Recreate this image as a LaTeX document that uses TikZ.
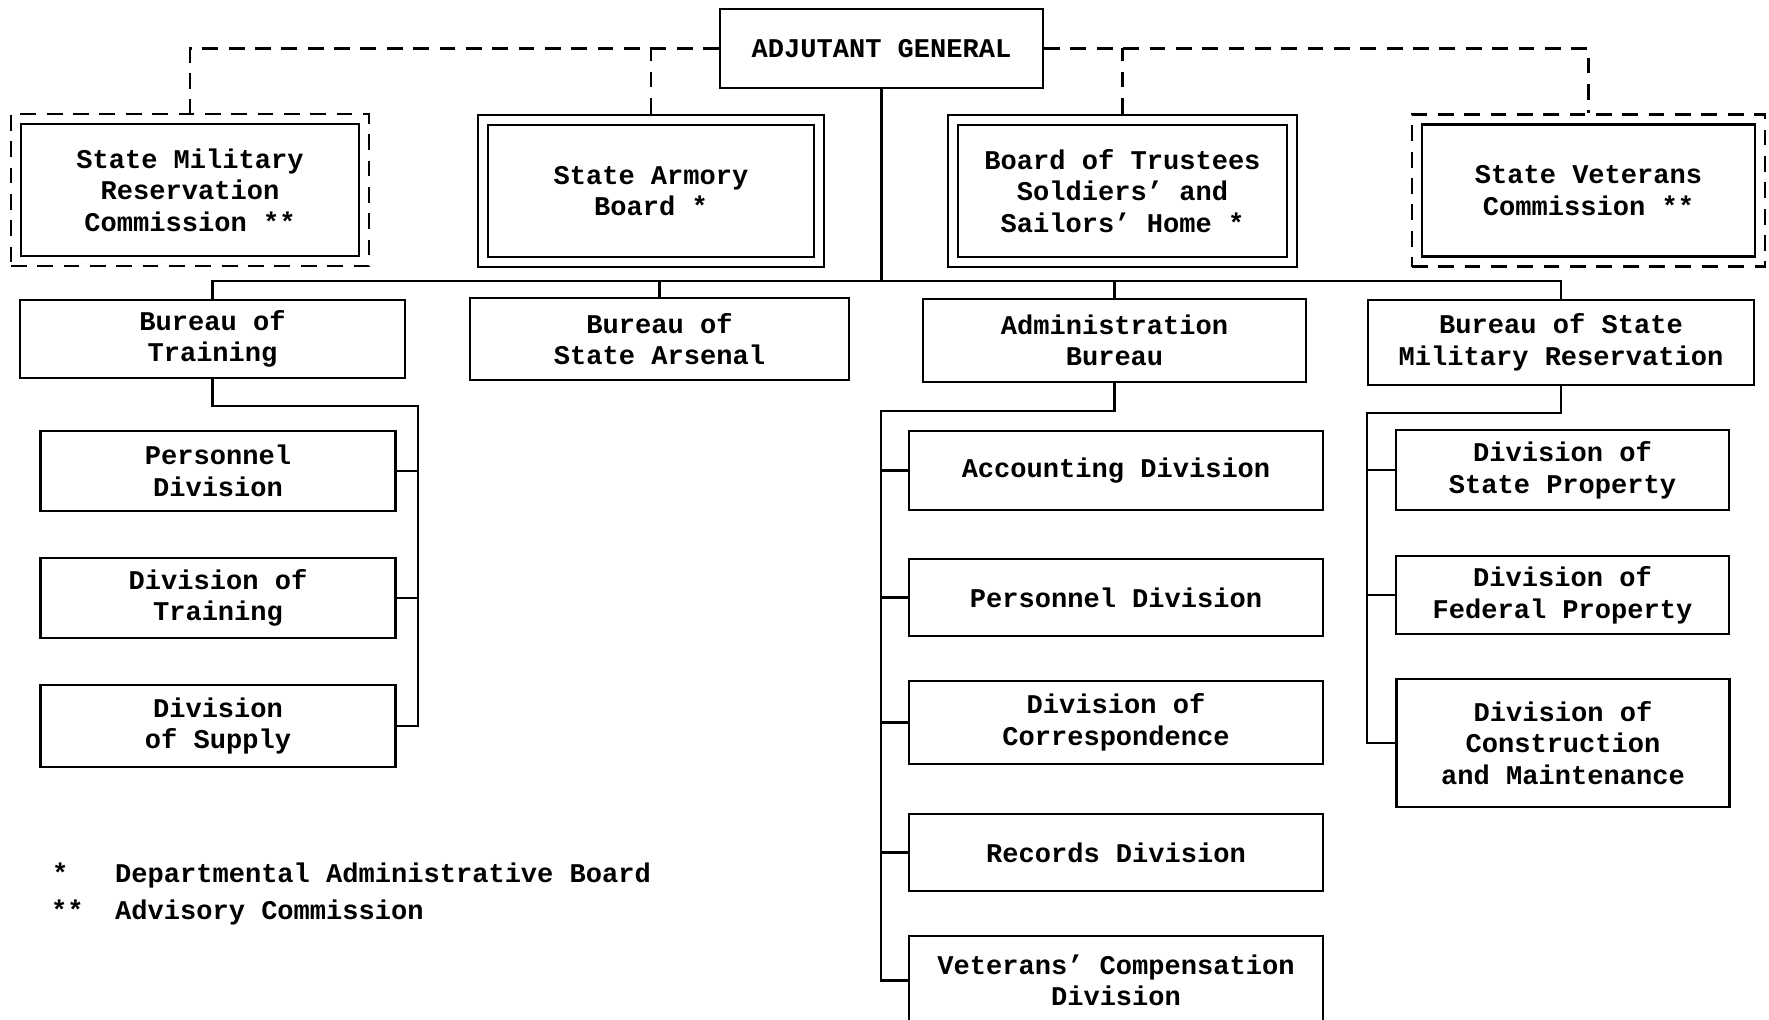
\documentclass[tikz,border=0pt]{standalone}
\usepackage{fontspec}
\setmainfont{Liberation Mono}
\usepackage{tikz}
\usetikzlibrary{positioning,fit}

\begin{document}
\begin{tikzpicture}[x=0.02cm,y=-0.02cm,line width=1.3pt,
  box/.style={draw,align=center,inner sep=2pt,font=\fontsize{15.4}{18}\selectfont\bfseries},
  outerbox/.style={draw,inner sep=0.18cm},
  advisory/.style={dash pattern=on 9pt off 6pt},
  key/.style={anchor=base west,inner sep=0pt,font=\fontsize{15.4}{18}\selectfont\bfseries}]
\useasboundingbox (0,0) rectangle (1769,1020);

\node[box,minimum width=6.46cm,minimum height=1.58cm] (adj) at (881.5,48.5) {ADJUTANT GENERAL};

\node[box,minimum width=6.76cm,minimum height=2.64cm] (smrc) at (190,190) {State Military\\Reservation\\Commission **};
\node[box,minimum width=6.52cm,minimum height=2.64cm] (arm) at (651,191) {State Armory\\Board *};
\node[box,minimum width=6.58cm,minimum height=2.64cm] (trus) at (1122.5,191) {Board of Trustees\\Soldiers' and\\Sailors' Home *};
\node[box,minimum width=6.66cm,minimum height=2.64cm] (vet) at (1588.5,190.5) {State Veterans\\Commission **};
\node[outerbox,advisory,fit=(smrc)] (smrcout) {};
\node[outerbox,fit=(arm)] (armout) {};
\node[outerbox,fit=(trus)] (trusout) {};
\node[outerbox,advisory,fit=(vet)] (vetout) {};

\node[box,minimum width=7.7cm,minimum height=1.56cm] (trb) at (212.5,339) {Bureau of\\Training};
\node[box,minimum width=7.58cm,minimum height=1.64cm] (arb) at (659.5,339) {Bureau of\\State Arsenal};
\node[box,minimum width=7.66cm,minimum height=1.66cm] (adb) at (1114.5,340.5) {Administration\\Bureau};
\node[box,minimum width=7.72cm,minimum height=1.7cm] (smb) at (1561,342.5) {Bureau of State\\Military Reservation};

\node[box,minimum width=7.1cm,minimum height=1.6cm] (trpers) at (218,471) {Personnel\\Division};
\node[box,minimum width=7.1cm,minimum height=1.6cm] (trdiv) at (218,598) {Division of\\Training};
\node[box,minimum width=7.1cm,minimum height=1.64cm] (trsup) at (218,726) {Division\\of Supply};

\node[box,minimum width=8.28cm,minimum height=1.58cm] (adacc) at (1116,470.5) {Accounting Division};
\node[box,minimum width=8.28cm,minimum height=1.54cm] (adpers) at (1116,597.5) {Personnel Division};
\node[box,minimum width=8.28cm,minimum height=1.66cm] (adcorr) at (1116,722.5) {Division of\\Correspondence};
\node[box,minimum width=8.28cm,minimum height=1.54cm] (adrec) at (1116,852.5) {Records Division};
\node[box,minimum width=8.28cm,minimum height=1.78cm] (advet) at (1116,980.5) {Veterans' Compensation\\Division};

\node[box,minimum width=6.66cm,minimum height=1.6cm] (smstate) at (1562.5,470) {Division of\\State Property};
\node[box,minimum width=6.66cm,minimum height=1.56cm] (smfed) at (1562.5,595) {Division of\\Federal Property};
\node[box,minimum width=6.66cm,minimum height=2.56cm] (smcons) at (1563,743) {Division of\\Construction\\and Maintenance};

\draw[advisory] (adj.west) -| (smrcout.north);
\draw[advisory] (armout.north) -- (armout.north |- adj.west);
\draw[advisory] (adj.east) -| (vetout.north);
\draw[advisory] (trusout.north) -- (trusout.north |- adj.east);

\coordinate (bus) at (881.5,281);
\draw (adj.south) -- (bus);
\draw (trb.north) |- (bus) -| (smb.north);
\draw (arb.north) -- (arb.north |- bus);
\draw (adb.north) -- (adb.north |- bus);

\coordinate (trrail) at (418,406);
\draw (trb.south) |- (trrail) |- (trsup.east);
\draw (trpers.east) -- (trpers.east -| trrail);
\draw (trdiv.east) -- (trdiv.east -| trrail);

\coordinate (adrail) at (881,411);
\draw (adb.south) |- (adrail) |- (advet.west);
\foreach \n in {adacc,adpers,adcorr,adrec}
  \draw (\n.west) -- (\n.west -| adrail);

\coordinate (smrail) at (1367,413);
\draw (smb.south) |- (smrail) |- (smcons.west);
\foreach \n in {smstate,smfed}
  \draw (\n.west) -- (\n.west -| smrail);

\node[key] (starone) at (51,882) {*};
\node[key] (keyone) at (114,882) {Departmental Administrative Board};
\node[key] (startwo) at (50,919) {**};
\node[key] (keytwo) at (114,919) {Advisory Commission};
\end{tikzpicture}
\end{document}
